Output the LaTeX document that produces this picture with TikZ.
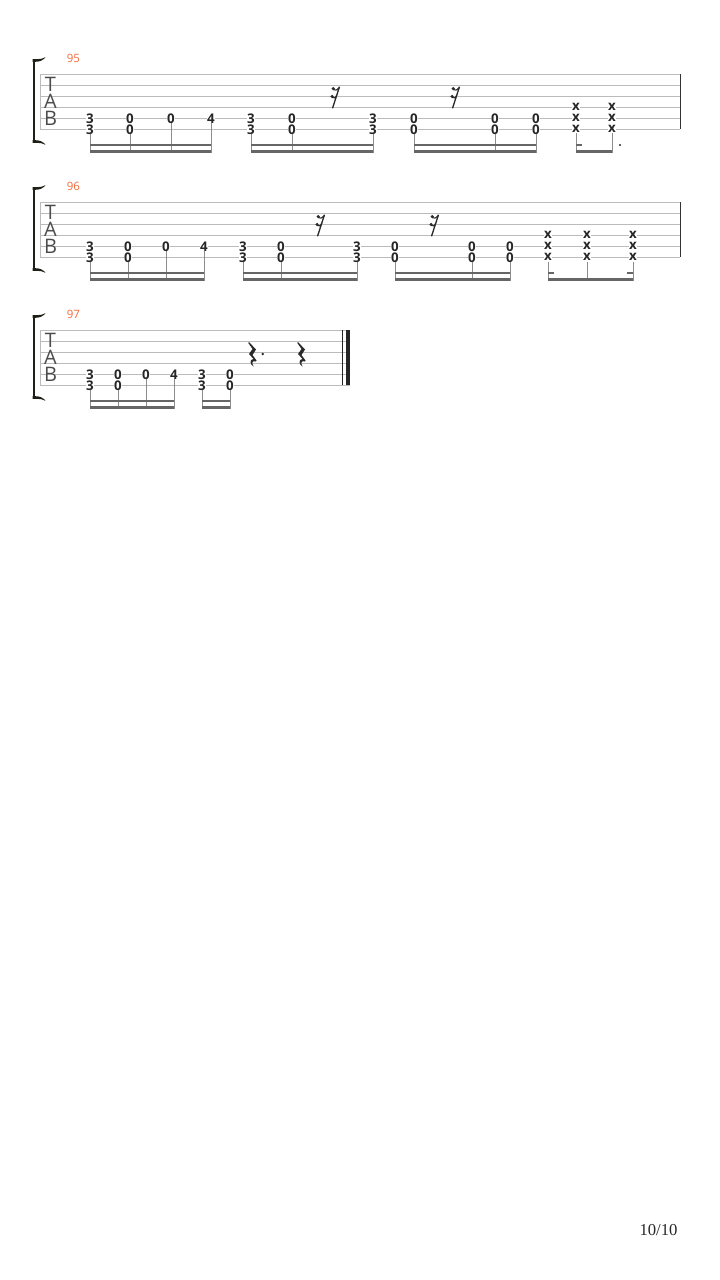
\documentclass[tikz,border=0pt]{standalone}
\usepackage{fontspec}
\setmainfont{Open Sans}
\newfontfamily\pagefont{Liberation Serif}
\definecolor{staffline}{HTML}{BBBBBB}
\definecolor{beamgray}{HTML}{666666}
\definecolor{stemgray}{HTML}{8C8C8C}
\definecolor{barorange}{HTML}{F06A3C}
\definecolor{bracketblack}{HTML}{1F1F17}
\definecolor{restblack}{HTML}{2A2A2A}
\tikzset{
  fret/.style={font=\bfseries\fontsize{10}{10}\selectfont, text=black!85,
    fill=white, inner sep=0.2pt},
  deadx/.style={font=\bfseries\fontsize{10}{10}\selectfont, text=black!85,
    fill=white, inner sep=0.4pt},
  stemline/.style={stemgray, line width=0.75pt},
  beamline/.style={beamgray, line width=1.8pt},
  dbl/.pic={
    \node[fret] at (0,118.3) {#1};
    \node[fret] at (0,129.3) {#1};
    \draw[stemline] (0,134) -- (0,152.6);
  },
  sgl/.pic={
    \node[fret] at (0,118.3) {#1};
    \draw[stemline] (0,123) -- (0,152.6);
  },
  dead/.pic={
    \foreach \s in {107.3,118.3,129.3}
      \node[deadx] at (0,\s) {x};
    \draw[stemline] (0,133.5) -- (0,152.6);
  },
  srest/.pic={
    \draw[restblack, line width=1pt] (4.5,86.7) -- (-2.5,108.3);
    \fill[restblack] (-1.8,88.6) circle (1.3pt) (-2.9,96.4) circle (1.3pt);
    \draw[restblack, line width=0.8pt] (-1.8,89.6) .. controls (1,90.6) .. (4.2,87.6);
    \draw[restblack, line width=0.8pt] (-2.9,97.4) .. controls (0,98.4) .. (1.7,95.2);
  },
  qrest/.pic={
    \fill[restblack] (1,86) -- (8,93.5) -- (4.5,99) -- (8.5,104.5) -- (7.5,105.5)
      .. controls (5,104.5) and (3,106) .. (5.5,110.5)
      .. controls (1.5,108) and (1.5,103.5) .. (5.5,103) -- (1,98) -- (4.5,93)
      -- (0.3,87) -- cycle;
  }
}
\begin{document}
\begin{tikzpicture}[x=0.75pt,y=-0.75pt]
        \useasboundingbox (0,0) rectangle (720,1280);
        % staves, brackets, TAB clefs, bar numbers
        \foreach \sy/\num/\len in {0/95/680, 128/96/680, 256/97/350} {
          \begin{scope}[shift={(0,\sy)}]
            \foreach \i in {0,...,5}
              \draw[staffline, line width=0.75pt] (40,74.3+11*\i) -- (\len,74.3+11*\i);
            \draw[staffline, line width=0.75pt] (40,74.3) -- (40,129.3);
            \draw[bracketblack, line width=1.9pt] (34,60.5) -- (34,141.5);
            \fill[bracketblack] (32.7,59.2) -- (37,59.2) .. controls (40.5,59.2) and (43,58.5) .. (45.5,57.2)
              .. controls (43.5,60) and (40,61.8) .. (35.5,61.8) -- (32.7,61.8) -- cycle;
            \fill[bracketblack] (32.7,142.8) -- (37,142.8) .. controls (40.5,142.8) and (43,143.5) .. (45.5,144.8)
              .. controls (43.5,142) and (40,140.2) .. (35.5,140.2) -- (32.7,140.2) -- cycle;
            \node[text=black!70, font=\fontsize{15}{15}\selectfont, inner sep=0pt] (clefT) at (50.5,84.3) {T};
            \node[text=black!70, font=\fontsize{15}{15}\selectfont, inner sep=0pt] (clefA) at (50.5,101.3) {A};
            \node[text=black!70, font=\fontsize{15}{15}\selectfont, inner sep=0pt] (clefB) at (50.5,118) {B};
            \node[text=barorange, font=\fontsize{8.6}{9}\selectfont, inner sep=0pt] (bar\num) at (73.4,58) {\num};
          \end{scope}
        }
        % bar 95
        \foreach \x/\f in {90/3,130/0,251/3,292/0,373/3,414/0,495/0,536/0}
          \pic at (\x,0) {dbl=\f};
        \foreach \x/\f in {171/0,211/4}
          \pic at (\x,0) {sgl=\f};
        \foreach \x in {576,612}
          \pic at (\x,0) {dead};
        \foreach \x in {335,455}
          \pic at (\x,0) {srest};
        \foreach \a/\b in {90/211,251/373,414/536} {
          \draw[beamline] (\a,144.8) -- (\b,144.8);
          \draw[beamline] (\a,151.4) -- (\b,151.4);
        }
        \draw[beamline] (576,144.8) -- (582,144.8);
        \draw[beamline] (576,151.4) -- (612,151.4);
        \fill[restblack] (620,145) circle (0.9pt);
        \draw[black!80, line width=0.75pt] (680,74.3) -- (680,129.3);
        % bar 96
        \begin{scope}[shift={(0,128)}]
          \foreach \x/\f in {90/3,128/0,243/3,281/0,357/3,395/0,472/0,510/0}
            \pic at (\x,0) {dbl=\f};
          \foreach \x/\f in {166/0,204/4}
            \pic at (\x,0) {sgl=\f};
          \foreach \x in {548,587,633}
            \pic at (\x,0) {dead};
          \foreach \x in {320,434}
            \pic at (\x,0) {srest};
          \foreach \a/\b in {90/204,243/357,395/510} {
            \draw[beamline] (\a,144.8) -- (\b,144.8);
            \draw[beamline] (\a,151.4) -- (\b,151.4);
          }
          \draw[beamline] (548,144.8) -- (554,144.8);
          \draw[beamline] (627,144.8) -- (633,144.8);
          \draw[beamline] (548,151.4) -- (633,151.4);
          \draw[black!80, line width=0.75pt] (680,74.3) -- (680,129.3);
        \end{scope}
        % bar 97
        \begin{scope}[shift={(0,256)}]
          \foreach \x/\f in {90/3,118/0,202/3,230/0}
            \pic at (\x,0) {dbl=\f};
          \foreach \x/\f in {146/0,174/4}
            \pic at (\x,0) {sgl=\f};
          \foreach \x in {248,297}
            \pic at (\x,0) {qrest};
          \fill[restblack] (262.7,98) circle (1pt);
          \foreach \a/\b in {90/174,202/230} {
            \draw[beamline] (\a,144.8) -- (\b,144.8);
            \draw[beamline] (\a,151.4) -- (\b,151.4);
          }
          \draw[black!85, line width=0.75pt] (342.7,74.3) -- (342.7,129.3);
          \draw[black!85, line width=3pt] (348,74.3) -- (348,129.3);
        \end{scope}
        \node[text=black!85, font=\pagefont\fontsize{12.5}{13}\selectfont, inner sep=0pt] (pagenum) at (658.5,1230) {10/10};
      \end{tikzpicture}
\end{document}
